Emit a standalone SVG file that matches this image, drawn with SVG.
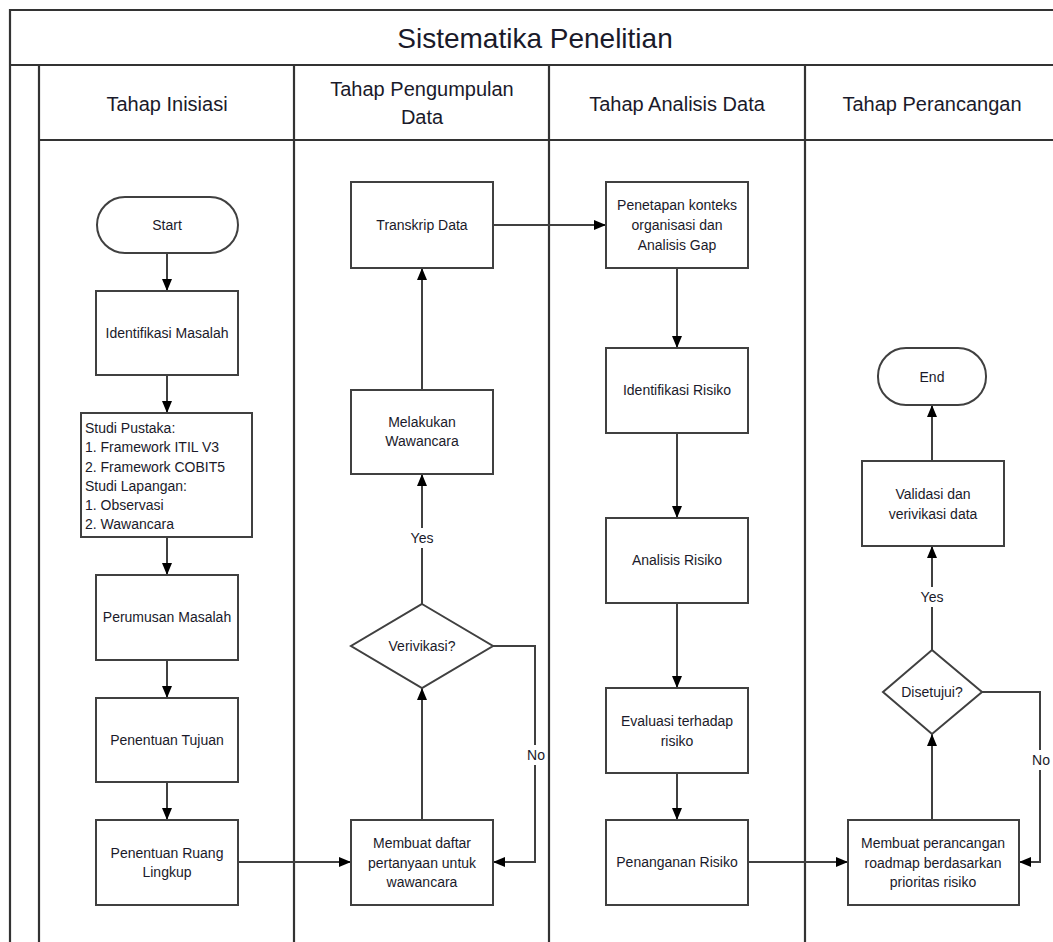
<svg xmlns="http://www.w3.org/2000/svg" width="1053" height="942" viewBox="0 0 1053 942">
<defs>
<style>
.frame{fill:none;stroke:#333;stroke-width:2.2}
.box{fill:#fff;stroke:#404040;stroke-width:2}
.t{font-family:"Liberation Sans",Arial,sans-serif;font-size:14px;fill:#1a1a2a;text-anchor:middle}
.tl{font-family:"Liberation Sans",Arial,sans-serif;font-size:14px;fill:#1a1a2a}
.h{font-family:"Liberation Sans",Arial,sans-serif;font-size:20px;fill:#1a1a2a;text-anchor:middle}
.title{font-family:"Liberation Sans",Arial,sans-serif;font-size:28px;fill:#1a1a2a;text-anchor:middle}
.c{fill:none;stroke:#404040;stroke-width:2}
.lbl{fill:#fff}
</style>
<marker id="ah" viewBox="0 0 12 10" refX="12" refY="5" markerWidth="12" markerHeight="10" markerUnits="userSpaceOnUse" orient="auto">
<path d="M0,0 L12,5 L0,10 z" fill="#000"/>
</marker>
</defs>
<rect width="1053" height="942" fill="#fff"/>
<g id="frame">
<path class="frame" d="M10,942 V10 H1053 M10,65 H1053 M39,65 V942 M39,140 H1053 M294,65 V942 M549,65 V942 M805,65 V942"/>
<text class="title" x="535" y="48">Sistematika Penelitian</text>
<text class="h" x="167" y="111">Tahap Inisiasi</text>
<text class="h" x="422" y="96">Tahap Pengumpulan</text>
<text class="h" x="422" y="124">Data</text>
<text class="h" x="677" y="111">Tahap Analisis Data</text>
<text class="h" x="932" y="111">Tahap Perancangan</text>
</g>
<g id="connectors">
<path class="c" marker-end="url(#ah)" d="M167,253 V291"/>
<path class="c" marker-end="url(#ah)" d="M167,375 V413"/>
<path class="c" marker-end="url(#ah)" d="M167,537 V575"/>
<path class="c" marker-end="url(#ah)" d="M167,660 V698"/>
<path class="c" marker-end="url(#ah)" d="M167,782 V820"/>
<path class="c" marker-end="url(#ah)" d="M238,862 H351"/>
<path class="c" marker-end="url(#ah)" d="M422,820 V688"/>
<path class="c" marker-end="url(#ah)" d="M422,604 V474"/>
<path class="c" marker-end="url(#ah)" d="M422,390 V268"/>
<path class="c" marker-end="url(#ah)" d="M493,646 H535 V862 H493"/>
<path class="c" marker-end="url(#ah)" d="M493,225 H606"/>
<path class="c" marker-end="url(#ah)" d="M677,268 V348"/>
<path class="c" marker-end="url(#ah)" d="M677,433 V518"/>
<path class="c" marker-end="url(#ah)" d="M677,603 V688"/>
<path class="c" marker-end="url(#ah)" d="M677,773 V820"/>
<path class="c" marker-end="url(#ah)" d="M748,862 H848"/>
<path class="c" marker-end="url(#ah)" d="M932,820 V734"/>
<path class="c" marker-end="url(#ah)" d="M932,650 V546"/>
<path class="c" marker-end="url(#ah)" d="M932,461 V405"/>
<path class="c" marker-end="url(#ah)" d="M982,692 H1040 V862 H1019"/>
<rect class="lbl" x="410" y="528" width="25" height="20"/>
<text class="t" x="422" y="543">Yes</text>
<rect class="lbl" x="525" y="745" width="21" height="20"/>
<text class="t" x="536" y="760">No</text>
<rect class="lbl" x="920" y="587" width="25" height="20"/>
<text class="t" x="932" y="602">Yes</text>
<rect class="lbl" x="1030" y="750" width="21" height="20"/>
<text class="t" x="1041" y="765">No</text>
</g>
<g id="start"><rect class="box" x="97" y="197" width="141" height="56" rx="28"/><text class="t" x="167" y="230">Start</text></g>
<g id="identifikasi"><rect class="box" x="96" y="291" width="142" height="84"/><text class="t" x="167" y="338">Identifikasi Masalah</text></g>
<g id="studi"><rect class="box" x="81" y="413" width="171" height="124"/>
<text class="tl" x="85" y="433">Studi Pustaka:</text>
<text class="tl" x="85" y="452">1. Framework ITIL V3</text>
<text class="tl" x="85" y="472">2. Framework COBIT5</text>
<text class="tl" x="85" y="491">Studi Lapangan:</text>
<text class="tl" x="85" y="510">1. Observasi</text>
<text class="tl" x="85" y="529">2. Wawancara</text></g>
<g id="perumusan"><rect class="box" x="96" y="575" width="142" height="85"/><text class="t" x="167" y="622">Perumusan Masalah</text></g>
<g id="tujuan"><rect class="box" x="96" y="698" width="142" height="84"/><text class="t" x="167" y="745">Penentuan Tujuan</text></g>
<g id="ruang"><rect class="box" x="96" y="820" width="142" height="85"/><text class="t" x="167" y="858">Penentuan Ruang</text><text class="t" x="167" y="877">Lingkup</text></g>
<g id="transkrip"><rect class="box" x="351" y="182" width="142" height="86"/><text class="t" x="422" y="230">Transkrip Data</text></g>
<g id="wawancara"><rect class="box" x="351" y="390" width="142" height="84"/><text class="t" x="422" y="427">Melakukan</text><text class="t" x="422" y="446">Wawancara</text></g>
<g id="verivikasi"><path class="box" d="M422,604 L493,646 L422,688 L351,646 z"/><text class="t" x="422" y="651">Verivikasi?</text></g>
<g id="daftar"><rect class="box" x="351" y="820" width="142" height="85"/><text class="t" x="422" y="848">Membuat daftar</text><text class="t" x="422" y="868">pertanyaan untuk</text><text class="t" x="422" y="887">wawancara</text></g>
<g id="penetapan"><rect class="box" x="606" y="182" width="142" height="86"/><text class="t" x="677" y="210">Penetapan konteks</text><text class="t" x="677" y="230">organisasi dan</text><text class="t" x="677" y="250">Analisis Gap</text></g>
<g id="identrisiko"><rect class="box" x="606" y="348" width="142" height="85"/><text class="t" x="677" y="395">Identifikasi Risiko</text></g>
<g id="analisis"><rect class="box" x="606" y="518" width="142" height="85"/><text class="t" x="677" y="565">Analisis Risiko</text></g>
<g id="evaluasi"><rect class="box" x="606" y="688" width="142" height="85"/><text class="t" x="677" y="726">Evaluasi terhadap</text><text class="t" x="677" y="746">risiko</text></g>
<g id="penanganan"><rect class="box" x="606" y="820" width="142" height="85"/><text class="t" x="677" y="867">Penanganan Risiko</text></g>
<g id="end"><rect class="box" x="878" y="348" width="108" height="57" rx="28"/><text class="t" x="932" y="382">End</text></g>
<g id="validasi"><rect class="box" x="862" y="461" width="142" height="85"/><text class="t" x="933" y="499">Validasi dan</text><text class="t" x="933" y="519">verivikasi data</text></g>
<g id="disetujui"><path class="box" d="M932,650 L982,692 L932,734 L883,692 z"/><text class="t" x="932" y="697">Disetujui?</text></g>
<g id="perancangan"><rect class="box" x="848" y="820" width="171" height="85"/><text class="t" x="933" y="848">Membuat perancangan</text><text class="t" x="933" y="868">roadmap berdasarkan</text><text class="t" x="933" y="887">prioritas risiko</text></g>
</svg>
